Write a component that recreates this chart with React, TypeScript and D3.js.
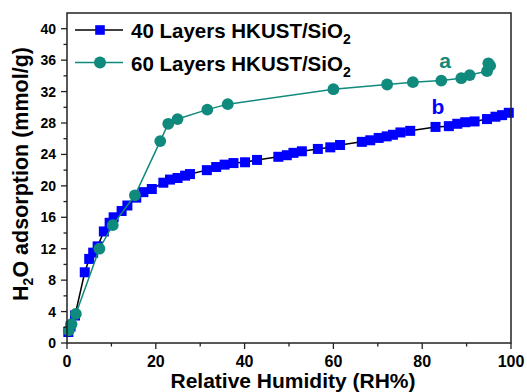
import React from "react";
import * as d3 from "d3";

const rh40 = [0.3, 0.8, 1.8, 4.0, 5.0, 5.9, 6.9, 8.3, 9.6, 10.5, 12.3, 13.6, 15.6, 17.2, 19.1, 21.7, 23.2, 24.9, 26.6, 27.7, 31.5, 33.6, 35.5, 37.5, 40.1, 42.8, 47.6, 49.5, 51.0, 52.9, 56.5, 59.3, 61.5, 66.4, 68.3, 70.2, 72.0, 73.4, 75.1, 77.3, 83.0, 86.0, 87.9, 89.7, 91.8, 94.6, 96.5, 98.0, 99.5];
const ads40 = [1.4, 2.1, 3.5, 9.0, 10.7, 11.5, 12.3, 14.2, 15.3, 16.0, 16.8, 17.5, 18.5, 19.2, 19.6, 20.4, 20.8, 21.0, 21.3, 21.5, 22.0, 22.4, 22.7, 22.9, 23.0, 23.3, 23.7, 23.9, 24.2, 24.4, 24.7, 24.9, 25.2, 25.6, 25.8, 26.1, 26.3, 26.5, 26.8, 27.0, 27.5, 27.6, 27.9, 28.1, 28.2, 28.5, 28.8, 29.0, 29.3];
const rh60 = [0.4, 1.0, 2.0, 7.3, 10.3, 15.3, 21.0, 22.8, 24.9, 31.6, 36.2, 60.0, 72.1, 77.9, 84.3, 88.8, 90.7, 94.6, 95.3, 94.9];
const ads60 = [1.6, 2.4, 3.7, 12.0, 15.0, 18.8, 25.7, 27.9, 28.5, 29.7, 30.4, 32.3, 32.9, 33.2, 33.4, 33.7, 34.1, 34.6, 35.3, 35.6];

const xTicks = [0, 20, 40, 60, 80, 100];
const xMinor = [10, 30, 50, 70, 90];
const yTicks = [0, 4, 8, 12, 16, 20, 24, 28, 32, 36, 40];
const yMinor = [2, 6, 10, 14, 18, 22, 26, 30, 34, 38];

const legendNames = ["40 Layers HKUST/SiO", "60 Layers HKUST/SiO"];
const curveLabels = ["a", "b"];

const BLUE = "#0000ff";
const TEAL = "#0f8a7c";
const FONT = "'Liberation Sans', Arial, Helvetica, sans-serif";

export default function App() {
  const left = 67, right = 511, top = 13, bottom = 343;
  const x = d3.scaleLinear().domain([0, 100]).range([left, right]);
  const y = d3.scaleLinear().domain([0, 42]).range([bottom, top]);

  const pts40 = rh40.map((v, i) => [v, ads40[i]] as [number, number]);
  const pts60 = rh60.map((v, i) => [v, ads60[i]] as [number, number]);
  const line = d3.line<[number, number]>().x((d) => x(d[0])).y((d) => y(d[1]));

  const sq = 10;
  const r = 5.9;

  return (
    <svg width={527} height={392} style={{ position: "absolute", left: 0, top: 0, background: "#fff" }} fontFamily={FONT}>
      <rect x={0} y={0} width={527} height={392} fill="#fff" />
      {/* series 40 */}
      <path d={line(pts40) || ""} fill="none" stroke="#000" strokeWidth={1.5} />
      {pts40.map((d, i) => (
        <rect key={"s" + i} x={x(d[0]) - sq / 2} y={y(d[1]) - sq / 2} width={sq} height={sq} fill={BLUE} />
      ))}
      {/* series 60 */}
      <path d={line(pts60) || ""} fill="none" stroke={TEAL} strokeWidth={1.5} />
      {pts60.map((d, i) => (
        <circle key={"c" + i} cx={x(d[0])} cy={y(d[1])} r={r} fill={TEAL} />
      ))}

      {/* frame */}
      <rect x={left} y={top} width={right - left} height={bottom - top} fill="none" stroke="#222" strokeWidth={1.5} />

      {/* x ticks */}
      {xTicks.map((t) => (
        <g key={"xt" + t}>
          <line x1={x(t)} x2={x(t)} y1={bottom} y2={bottom + 6} stroke="#222" strokeWidth={1.3} />
          <text x={x(t)} y={366.5} textAnchor="middle" fontSize={16} fontWeight="bold" fill="#000">{t}</text>
        </g>
      ))}
      {xMinor.map((t) => (
        <line key={"xm" + t} x1={x(t)} x2={x(t)} y1={bottom} y2={bottom + 3.5} stroke="#222" strokeWidth={1.3} />
      ))}
      {/* y ticks */}
      {yTicks.map((t) => (
        <g key={"yt" + t}>
          <line x1={left - 6} x2={left} y1={y(t)} y2={y(t)} stroke="#222" strokeWidth={1.3} />
          <text x={56} y={y(t) + 5} textAnchor="end" fontSize={14} fontWeight="bold" fill="#000">{t}</text>
        </g>
      ))}
      {yMinor.map((t) => (
        <line key={"ym" + t} x1={left - 3.5} x2={left} y1={y(t)} y2={y(t)} stroke="#222" strokeWidth={1.3} />
      ))}

      {/* axis titles */}
      <text x={293} y={388} textAnchor="middle" fontSize={21} fontWeight="bold" fill="#000">Relative Humidity (RH%)</text>
      <text transform="translate(28,174) rotate(-90)" textAnchor="middle" fontSize={21.5} fontWeight="bold" fill="#000">
        H<tspan fontSize={14} dy={5}>2</tspan><tspan dy={-5}>O adsorption (mmol/g)</tspan>
      </text>

      {/* legend */}
      <line x1={75} x2={123} y1={30} y2={30} stroke="#000" strokeWidth={1.5} />
      <rect x={100 - 4.8} y={30 - 4.8} width={9.6} height={9.6} fill={BLUE} />
      <text x={131} y={37.5} fontSize={20.5} fontWeight="bold" fill="#000">
        {legendNames[0]}<tspan fontSize={14} dy={6}>2</tspan>
      </text>
      <line x1={75} x2={123} y1={62.5} y2={62.5} stroke={TEAL} strokeWidth={1.5} />
      <circle cx={100} cy={62.5} r={6} fill={TEAL} />
      <text x={131} y={70.5} fontSize={20.5} fontWeight="bold" fill="#000">
        {legendNames[1]}<tspan fontSize={14} dy={6}>2</tspan>
      </text>

      {/* curve labels */}
      <text x={445} y={68.3} textAnchor="middle" fontSize={21} fontWeight="bold" fill={TEAL}>{curveLabels[0]}</text>
      <text x={438} y={114} textAnchor="middle" fontSize={21} fontWeight="bold" fill={BLUE}>{curveLabels[1]}</text>
    </svg>
  );
}
